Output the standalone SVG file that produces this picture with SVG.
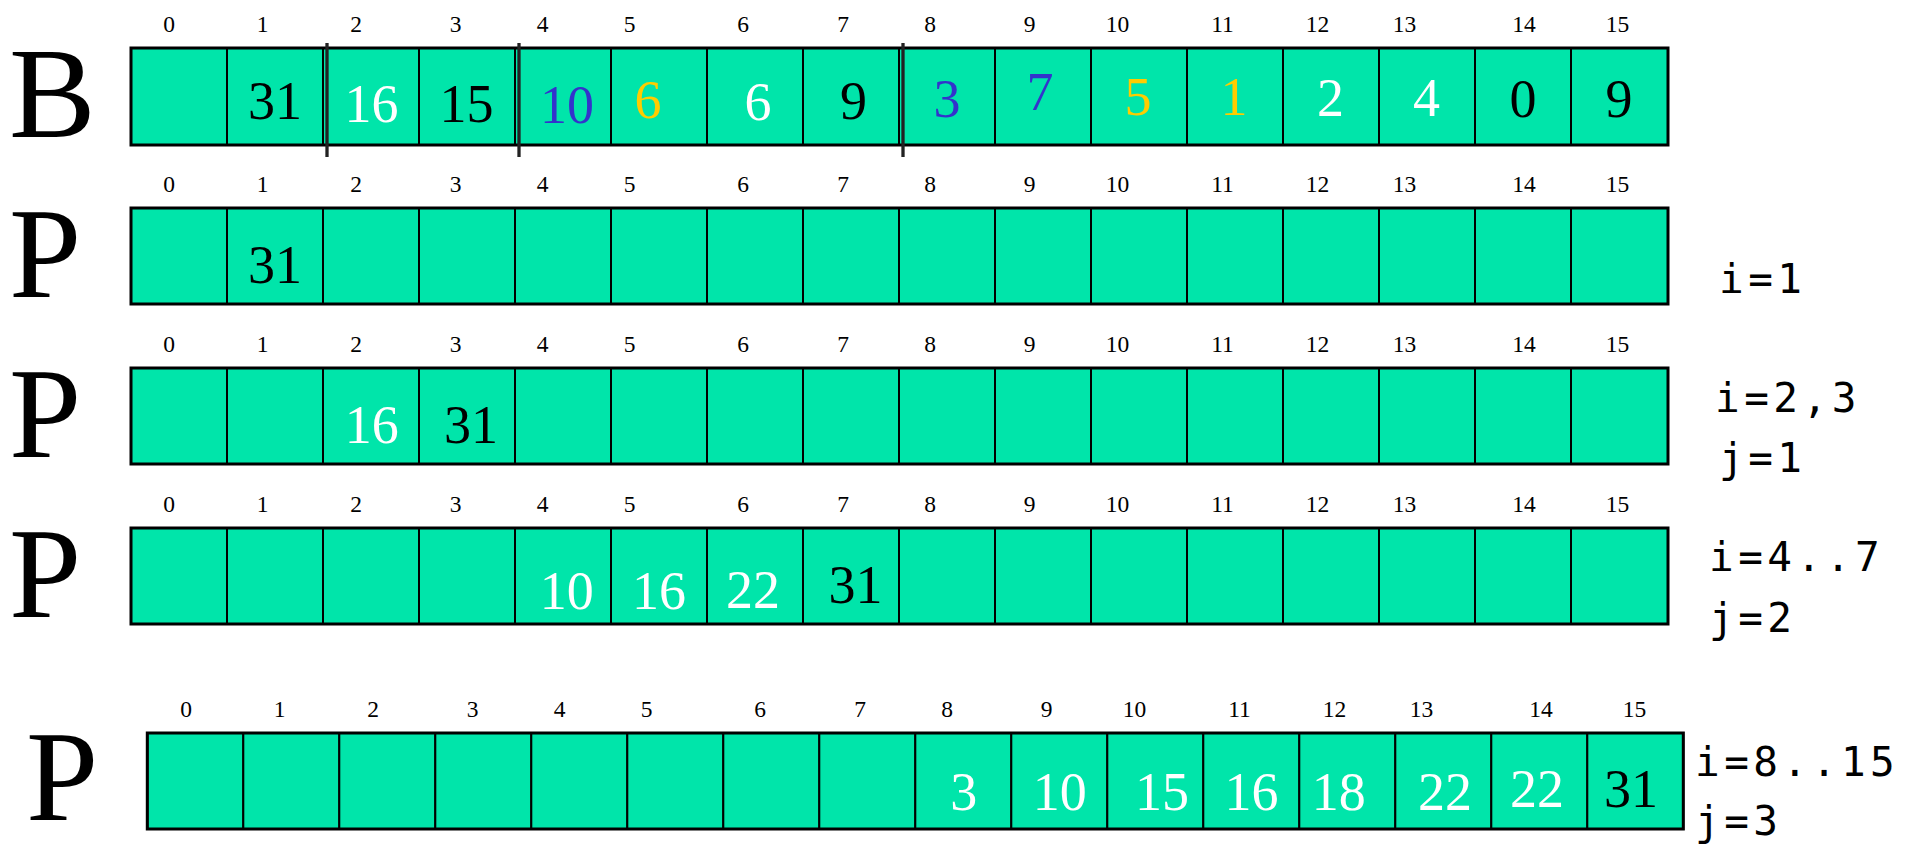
<svg xmlns="http://www.w3.org/2000/svg" width="1925" height="845" viewBox="0 0 1925 845">
<defs>
<style>
.bg{fill:#ffffff}
.cell{fill:#00E5AA;stroke:#000;stroke-width:2}
.frame{fill:none;stroke:#000;stroke-width:3}
.idx{font-family:"Liberation Serif","Times New Roman",serif;font-size:23.5px;fill:#000;text-anchor:middle}
.val{font-family:"Liberation Serif","Times New Roman",serif;font-size:54px;text-anchor:middle}
.big{font-family:"Liberation Serif","Times New Roman",serif;font-size:130px;fill:#000}
.lbl{font-family:"DejaVu Sans Mono",monospace;font-size:41px;letter-spacing:4.5px;fill:#000}
.k{fill:#000}.w{fill:#fff}.b{fill:#3333CC}.o{fill:#FFCC00}
.sep{stroke:#222;stroke-width:3.3}
</style>
</defs>
<rect class="bg" x="0" y="0" width="1925" height="845"/>

<g id="rowB">
<text class="big" x="9" y="137">B</text>
<g class="idxs">
<text class="idx" x="169" y="32">0</text><text class="idx" x="262.5" y="32">1</text><text class="idx" x="356" y="32">2</text><text class="idx" x="455.5" y="32">3</text><text class="idx" x="542.5" y="32">4</text><text class="idx" x="629.5" y="32">5</text><text class="idx" x="743" y="32">6</text><text class="idx" x="843" y="32">7</text><text class="idx" x="930" y="32">8</text><text class="idx" x="1029.5" y="32">9</text><text class="idx" x="1117.5" y="32">10</text><text class="idx" x="1222.5" y="32">11</text><text class="idx" x="1317.5" y="32">12</text><text class="idx" x="1404.5" y="32">13</text><text class="idx" x="1524" y="32">14</text><text class="idx" x="1617.5" y="32">15</text>
</g>
<g transform="translate(131,48)">
<rect class="cell" x="0" y="0" width="96" height="97"/><rect class="cell" x="96" y="0" width="96" height="97"/><rect class="cell" x="192" y="0" width="96" height="97"/><rect class="cell" x="288" y="0" width="96" height="97"/><rect class="cell" x="384" y="0" width="96" height="97"/><rect class="cell" x="480" y="0" width="96" height="97"/><rect class="cell" x="576" y="0" width="96" height="97"/><rect class="cell" x="672" y="0" width="96" height="97"/><rect class="cell" x="768" y="0" width="96" height="97"/><rect class="cell" x="864" y="0" width="96" height="97"/><rect class="cell" x="960" y="0" width="96" height="97"/><rect class="cell" x="1056" y="0" width="96" height="97"/><rect class="cell" x="1152" y="0" width="96" height="97"/><rect class="cell" x="1248" y="0" width="96" height="97"/><rect class="cell" x="1344" y="0" width="96" height="97"/><rect class="cell" x="1440" y="0" width="97" height="97"/>
<rect class="frame" x="0" y="0" width="1537" height="97"/>
</g>
<text class="val k" x="275" y="119">31</text>
<text class="val w" x="371.5" y="122">16</text>
<text class="val k" x="466.5" y="122">15</text>
<text class="val b" x="567" y="123">10</text>
<text class="val o" x="648" y="118">6</text>
<text class="val w" x="758" y="120">6</text>
<text class="val k" x="853.5" y="119">9</text>
<text class="val b" x="947" y="117">3</text>
<text class="val b" x="1040" y="110">7</text>
<text class="val o" x="1138" y="115">5</text>
<text class="val o" x="1234" y="115">1</text>
<text class="val w" x="1330.5" y="116">2</text>
<text class="val w" x="1426.5" y="116">4</text>
<text class="val k" x="1523" y="117">0</text>
<text class="val k" x="1619" y="117">9</text>
<line class="sep" x1="327" y1="43" x2="327" y2="157"/>
<line class="sep" x1="519" y1="43" x2="519" y2="157"/>
<line class="sep" x1="903" y1="43" x2="903" y2="157"/>
</g>

<g id="rowP1">
<text class="big" x="9" y="297">P</text>
<text class="idx" x="169" y="192">0</text><text class="idx" x="262.5" y="192">1</text><text class="idx" x="356" y="192">2</text><text class="idx" x="455.5" y="192">3</text><text class="idx" x="542.5" y="192">4</text><text class="idx" x="629.5" y="192">5</text><text class="idx" x="743" y="192">6</text><text class="idx" x="843" y="192">7</text><text class="idx" x="930" y="192">8</text><text class="idx" x="1029.5" y="192">9</text><text class="idx" x="1117.5" y="192">10</text><text class="idx" x="1222.5" y="192">11</text><text class="idx" x="1317.5" y="192">12</text><text class="idx" x="1404.5" y="192">13</text><text class="idx" x="1524" y="192">14</text><text class="idx" x="1617.5" y="192">15</text>
<g transform="translate(131,208)">
<rect class="cell" x="0" y="0" width="96" height="96"/><rect class="cell" x="96" y="0" width="96" height="96"/><rect class="cell" x="192" y="0" width="96" height="96"/><rect class="cell" x="288" y="0" width="96" height="96"/><rect class="cell" x="384" y="0" width="96" height="96"/><rect class="cell" x="480" y="0" width="96" height="96"/><rect class="cell" x="576" y="0" width="96" height="96"/><rect class="cell" x="672" y="0" width="96" height="96"/><rect class="cell" x="768" y="0" width="96" height="96"/><rect class="cell" x="864" y="0" width="96" height="96"/><rect class="cell" x="960" y="0" width="96" height="96"/><rect class="cell" x="1056" y="0" width="96" height="96"/><rect class="cell" x="1152" y="0" width="96" height="96"/><rect class="cell" x="1248" y="0" width="96" height="96"/><rect class="cell" x="1344" y="0" width="96" height="96"/><rect class="cell" x="1440" y="0" width="97" height="96"/>
<rect class="frame" x="0" y="0" width="1537" height="96"/>
</g>
<text class="val k" x="275" y="283">31</text>
<text class="lbl" x="1719" y="293">i=1</text>
</g>

<g id="rowP2">
<text class="big" x="9" y="457">P</text>
<text class="idx" x="169" y="352">0</text><text class="idx" x="262.5" y="352">1</text><text class="idx" x="356" y="352">2</text><text class="idx" x="455.5" y="352">3</text><text class="idx" x="542.5" y="352">4</text><text class="idx" x="629.5" y="352">5</text><text class="idx" x="743" y="352">6</text><text class="idx" x="843" y="352">7</text><text class="idx" x="930" y="352">8</text><text class="idx" x="1029.5" y="352">9</text><text class="idx" x="1117.5" y="352">10</text><text class="idx" x="1222.5" y="352">11</text><text class="idx" x="1317.5" y="352">12</text><text class="idx" x="1404.5" y="352">13</text><text class="idx" x="1524" y="352">14</text><text class="idx" x="1617.5" y="352">15</text>
<g transform="translate(131,368)">
<rect class="cell" x="0" y="0" width="96" height="96"/><rect class="cell" x="96" y="0" width="96" height="96"/><rect class="cell" x="192" y="0" width="96" height="96"/><rect class="cell" x="288" y="0" width="96" height="96"/><rect class="cell" x="384" y="0" width="96" height="96"/><rect class="cell" x="480" y="0" width="96" height="96"/><rect class="cell" x="576" y="0" width="96" height="96"/><rect class="cell" x="672" y="0" width="96" height="96"/><rect class="cell" x="768" y="0" width="96" height="96"/><rect class="cell" x="864" y="0" width="96" height="96"/><rect class="cell" x="960" y="0" width="96" height="96"/><rect class="cell" x="1056" y="0" width="96" height="96"/><rect class="cell" x="1152" y="0" width="96" height="96"/><rect class="cell" x="1248" y="0" width="96" height="96"/><rect class="cell" x="1344" y="0" width="96" height="96"/><rect class="cell" x="1440" y="0" width="97" height="96"/>
<rect class="frame" x="0" y="0" width="1537" height="96"/>
</g>
<text class="val w" x="371.7" y="443">16</text>
<text class="val k" x="471" y="443">31</text>
<text class="lbl" x="1715" y="412">i=2,3</text>
<text class="lbl" x="1719" y="472">j=1</text>
</g>

<g id="rowP3">
<text class="big" x="9" y="617">P</text>
<text class="idx" x="169" y="512">0</text><text class="idx" x="262.5" y="512">1</text><text class="idx" x="356" y="512">2</text><text class="idx" x="455.5" y="512">3</text><text class="idx" x="542.5" y="512">4</text><text class="idx" x="629.5" y="512">5</text><text class="idx" x="743" y="512">6</text><text class="idx" x="843" y="512">7</text><text class="idx" x="930" y="512">8</text><text class="idx" x="1029.5" y="512">9</text><text class="idx" x="1117.5" y="512">10</text><text class="idx" x="1222.5" y="512">11</text><text class="idx" x="1317.5" y="512">12</text><text class="idx" x="1404.5" y="512">13</text><text class="idx" x="1524" y="512">14</text><text class="idx" x="1617.5" y="512">15</text>
<g transform="translate(131,528)">
<rect class="cell" x="0" y="0" width="96" height="96"/><rect class="cell" x="96" y="0" width="96" height="96"/><rect class="cell" x="192" y="0" width="96" height="96"/><rect class="cell" x="288" y="0" width="96" height="96"/><rect class="cell" x="384" y="0" width="96" height="96"/><rect class="cell" x="480" y="0" width="96" height="96"/><rect class="cell" x="576" y="0" width="96" height="96"/><rect class="cell" x="672" y="0" width="96" height="96"/><rect class="cell" x="768" y="0" width="96" height="96"/><rect class="cell" x="864" y="0" width="96" height="96"/><rect class="cell" x="960" y="0" width="96" height="96"/><rect class="cell" x="1056" y="0" width="96" height="96"/><rect class="cell" x="1152" y="0" width="96" height="96"/><rect class="cell" x="1248" y="0" width="96" height="96"/><rect class="cell" x="1344" y="0" width="96" height="96"/><rect class="cell" x="1440" y="0" width="97" height="96"/>
<rect class="frame" x="0" y="0" width="1537" height="96"/>
</g>
<text class="val w" x="566.7" y="609">10</text>
<text class="val w" x="659" y="609">16</text>
<text class="val w" x="753" y="608">22</text>
<text class="val k" x="855.5" y="603">31</text>
<text class="lbl" x="1709" y="571">i=4..7</text>
<text class="lbl" x="1709" y="632">j=2</text>
</g>

<g id="rowP4">
<text class="big" x="26" y="820">P</text>
<text class="idx" x="186" y="717">0</text><text class="idx" x="279.5" y="717">1</text><text class="idx" x="373" y="717">2</text><text class="idx" x="472.5" y="717">3</text><text class="idx" x="559.5" y="717">4</text><text class="idx" x="646.5" y="717">5</text><text class="idx" x="760" y="717">6</text><text class="idx" x="860" y="717">7</text><text class="idx" x="947" y="717">8</text><text class="idx" x="1046.5" y="717">9</text><text class="idx" x="1134.5" y="717">10</text><text class="idx" x="1239.5" y="717">11</text><text class="idx" x="1334.5" y="717">12</text><text class="idx" x="1421.5" y="717">13</text><text class="idx" x="1541" y="717">14</text><text class="idx" x="1634.5" y="717">15</text>
<g transform="translate(147.3,733)">
<rect class="cell" x="0" y="0" width="96" height="96"/><rect class="cell" x="96" y="0" width="96" height="96"/><rect class="cell" x="192" y="0" width="96" height="96"/><rect class="cell" x="288" y="0" width="96" height="96"/><rect class="cell" x="384" y="0" width="96" height="96"/><rect class="cell" x="480" y="0" width="96" height="96"/><rect class="cell" x="576" y="0" width="96" height="96"/><rect class="cell" x="672" y="0" width="96" height="96"/><rect class="cell" x="768" y="0" width="96" height="96"/><rect class="cell" x="864" y="0" width="96" height="96"/><rect class="cell" x="960" y="0" width="96" height="96"/><rect class="cell" x="1056" y="0" width="96" height="96"/><rect class="cell" x="1152" y="0" width="96" height="96"/><rect class="cell" x="1248" y="0" width="96" height="96"/><rect class="cell" x="1344" y="0" width="96" height="96"/><rect class="cell" x="1440" y="0" width="96" height="96"/>
<rect class="frame" x="0" y="0" width="1536" height="96"/>
</g>
<text class="val w" x="963.8" y="810">3</text>
<text class="val w" x="1059.7" y="810">10</text>
<text class="val w" x="1162" y="810">15</text>
<text class="val w" x="1251.5" y="810">16</text>
<text class="val w" x="1338.8" y="810">18</text>
<text class="val w" x="1445" y="810">22</text>
<text class="val w" x="1537" y="807">22</text>
<text class="val k" x="1631" y="807">31</text>
<text class="lbl" x="1695" y="776">i=8..15</text>
<text class="lbl" x="1695" y="835">j=3</text>
</g>
</svg>
